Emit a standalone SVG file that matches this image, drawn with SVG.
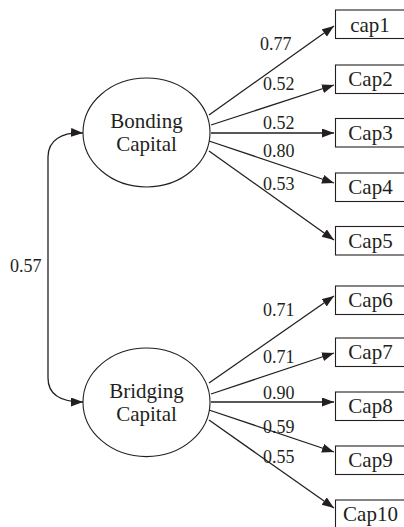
<svg xmlns="http://www.w3.org/2000/svg" width="404" height="527" viewBox="0 0 404 527">
<style>
.bg{fill:#fff}
.ell{fill:#fff;stroke:#231f20;stroke-width:1.1}
.box{fill:#fff;stroke:#231f20;stroke-width:1.1}
.lt{font-family:"Liberation Serif","Times New Roman",serif;font-size:21px;fill:#231f20;text-anchor:middle}
.bt{font-family:"Liberation Serif","Times New Roman",serif;font-size:21px;fill:#231f20;text-anchor:middle}
.lab{font-family:"Liberation Serif","Times New Roman",serif;font-size:18px;fill:#231f20}
.con{fill:none;stroke:#231f20;stroke-width:1.3;marker-end:url(#ah)}
</style>
<defs>
<marker id="ah" markerUnits="userSpaceOnUse" markerWidth="14" markerHeight="10" refX="12" refY="4.5" orient="auto-start-reverse">
<path d="M0,0 L12,4.5 L0,9 z" fill="#231f20"/>
</marker>
</defs>
<rect class="bg" x="0" y="0" width="404" height="527"/>
<g id="connectors">
<path class="con" d="M209,115 L334,26"/>
<path class="con" d="M211,125 L334,85"/>
<path class="con" d="M211,133 L334,133"/>
<path class="con" d="M209,141 L334,183"/>
<path class="con" d="M209,151 L334,240"/>
<path class="con" d="M209,383 L334,296"/>
<path class="con" d="M211,394 L334,353"/>
<path class="con" d="M211,402 L334,402"/>
<path class="con" d="M209,410 L334,452"/>
<path class="con" d="M209,420 L334,508"/>
<path class="con" style="marker-start:url(#ah)" d="M83,133 C62,132 48,140 48,157 L48,378 C48,395 62,402 83,402"/>
<text class="lab" x="260" y="49.5">0.77</text>
<text class="lab" x="263" y="90">0.52</text>
<text class="lab" x="263" y="129">0.52</text>
<text class="lab" x="263" y="157">0.80</text>
<text class="lab" x="263" y="190">0.53</text>
<text class="lab" x="263" y="316">0.71</text>
<text class="lab" x="263" y="362.5">0.71</text>
<text class="lab" x="263" y="399">0.90</text>
<text class="lab" x="263" y="432.5">0.59</text>
<text class="lab" x="263" y="463">0.55</text>
<text class="lab" x="10" y="272">0.57</text>
</g>
<g id="bonding">
<ellipse class="ell" cx="146.5" cy="132.5" rx="63.5" ry="54.5"/>
<text class="lt" x="146.5" y="128">Bonding</text>
<text class="lt" x="146.5" y="151">Capital</text>
</g>
<g id="bridging">
<ellipse class="ell" cx="146.5" cy="402.3" rx="63.5" ry="54.3"/>
<text class="lt" x="146.5" y="398">Bridging</text>
<text class="lt" x="146.5" y="421">Capital</text>
</g>
<g id="cap1"><rect class="box" x="335.5" y="10" width="80" height="28.5"/><text class="bt" x="370" y="31.5">cap1</text></g>
<g id="cap2"><rect class="box" x="335.5" y="65" width="80" height="28.5"/><text class="bt" x="370.5" y="86">Cap2</text></g>
<g id="cap3"><rect class="box" x="335.5" y="118.5" width="80" height="28.5"/><text class="bt" x="370.5" y="139.5">Cap3</text></g>
<g id="cap4"><rect class="box" x="335.5" y="173" width="80" height="28.5"/><text class="bt" x="370.5" y="194">Cap4</text></g>
<g id="cap5"><rect class="box" x="335.5" y="226.5" width="80" height="28.5"/><text class="bt" x="370.5" y="247.5">Cap5</text></g>
<g id="cap6"><rect class="box" x="335.5" y="286" width="80" height="28.5"/><text class="bt" x="370.5" y="307">Cap6</text></g>
<g id="cap7"><rect class="box" x="335.5" y="338" width="80" height="28.5"/><text class="bt" x="370.5" y="359">Cap7</text></g>
<g id="cap8"><rect class="box" x="335.5" y="392" width="80" height="28.5"/><text class="bt" x="370.5" y="413">Cap8</text></g>
<g id="cap9"><rect class="box" x="335.5" y="446" width="80" height="28.5"/><text class="bt" x="370.5" y="467">Cap9</text></g>
<g id="cap10"><rect class="box" x="335.5" y="500" width="80" height="40"/><text class="bt" x="370.5" y="521">Cap10</text></g>
</svg>
